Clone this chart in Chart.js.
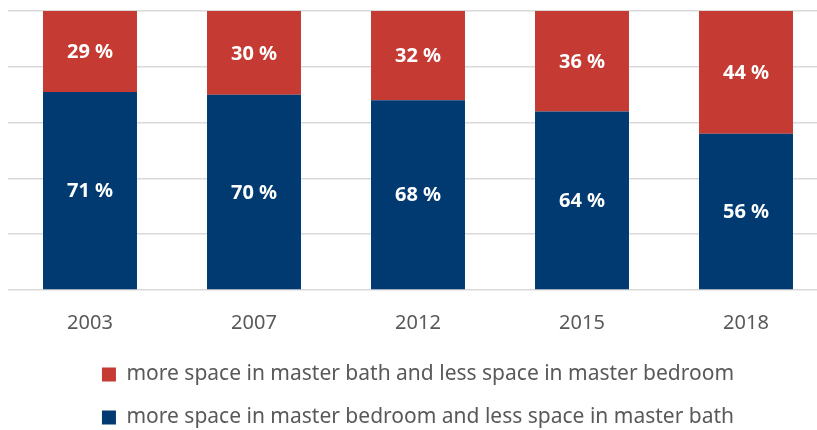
<!DOCTYPE html>
<html>
<head>
<meta charset="utf-8">
<script src="https://cdn.jsdelivr.net/npm/chart.js@4.4.1/dist/chart.umd.min.js"></script>
<style>
  html, body { margin: 0; padding: 0; background: #fff; overflow: hidden; }
  #wrap { width: 828px; height: 430px; }
</style>
</head>
<body>
<div id="wrap"><canvas id="bath-chart"></canvas></div>
<script>
const years = ['2003', '2007', '2012', '2015', '2018'];
const bedroomShare = [71, 70, 68, 64, 56];
const bathShare = [29, 30, 32, 36, 44];
const seriesNames = [
  'more space in master bedroom and less space in master bath',
  'more space in master bath and less space in master bedroom'
];

// writes "NN %" in the middle of each bar segment
const barLabels = {
  id: 'barLabels',
  afterDatasetsDraw(chart) {
    const ctx = chart.ctx;
    ctx.save();
    ctx.fillStyle = '#fff';
    ctx.font = 'bold 20px "Noto Sans"';
    ctx.textAlign = 'center';
    ctx.textBaseline = 'middle';
    chart.data.datasets.forEach((ds, i) => {
      chart.getDatasetMeta(i).data.forEach((bar, j) => {
        const p = bar.getProps(['x', 'y', 'base'], true);
        ctx.fillText(ds.data[j] + ' %', p.x, (p.y + p.base) / 2 + 1);
      });
    });
    ctx.restore();
  }
};

new Chart(document.getElementById('bath-chart'), {
  type: 'bar',
  data: {
    labels: years,
    datasets: [
      { label: seriesNames[0], data: bedroomShare, backgroundColor: '#003A70' },
      { label: seriesNames[1], data: bathShare, backgroundColor: '#C53A33' }
    ]
  },
  options: {
    responsive: true,
    maintainAspectRatio: false,
    animation: false,
    layout: { padding: { left: 8, top: 11, right: 0, bottom: -8 } },
    datasets: { bar: { categoryPercentage: 1, barPercentage: 0.573 } },
    scales: {
      x: {
        stacked: true,
        grid: { display: false },
        border: { display: false },
        ticks: { color: '#595959', font: { family: 'Noto Sans', size: 20 }, padding: 13 },
        afterFit(scale) { scale.height -= 6; }
      },
      y: {
        stacked: true,
        min: 0,
        max: 100,
        ticks: { display: false, stepSize: 20 },
        border: { display: false },
        grid: { color: '#d9d9d9', lineWidth: 1.5, drawTicks: false }
      }
    },
    plugins: {
      tooltip: { enabled: false },
      legend: {
        position: 'bottom',
        reverse: true,
        labels: {
          color: '#595959',
          font: { family: 'Noto Sans', size: 21 },
          boxWidth: 14,
          boxHeight: 14,
          padding: 22
        }
      }
    }
  },
  plugins: [barLabels]
});
</script>
</body>
</html>
